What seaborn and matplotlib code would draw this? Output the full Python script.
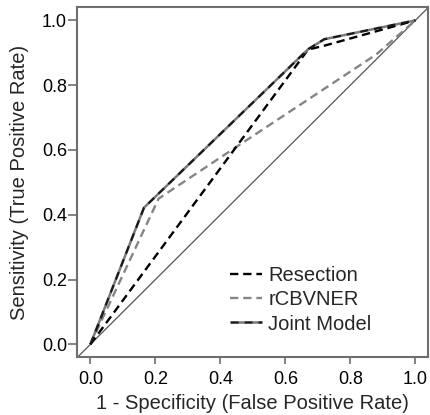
import numpy as np
import pandas as pd
import seaborn as sns
import matplotlib
matplotlib.use("Agg")
import matplotlib.pyplot as plt

# --- ROC curve points ---
resection_fpr = [0.0, 0.67, 0.72, 1.0]
resection_tpr = [0.0, 0.91, 0.922, 1.0]

rcbv_fpr = [0.0, 0.21, 0.45, 0.88, 1.0]
rcbv_tpr = [0.0, 0.45, 0.61, 0.895, 1.0]

joint_fpr = [0.0, 0.165, 0.225, 0.67, 0.72, 1.0]
joint_tpr = [0.0, 0.422, 0.48, 0.911, 0.942, 1.0]

tick_values = [0.0, 0.2, 0.4, 0.6, 0.8, 1.0]

sns.set_style("ticks")
plt.rcParams['font.family'] = ['Liberation Sans', 'DejaVu Sans']
plt.rcParams['lines.scale_dashes'] = False

frame_col = '#6e6e6e'

fig = plt.figure(figsize=(4.3, 4.15), dpi=100)
ax = fig.add_axes([0.18, 0.139, 0.816, 0.843])

# reference diagonal
ax.axline((0, 0), (1, 1), color='#555555', lw=0.9, zorder=1)

df_res = pd.DataFrame({'fpr': resection_fpr, 'tpr': resection_tpr})
df_rcbv = pd.DataFrame({'fpr': rcbv_fpr, 'tpr': rcbv_tpr})
df_joint = pd.DataFrame({'fpr': joint_fpr, 'tpr': joint_tpr})

sns.lineplot(data=df_res, x='fpr', y='tpr', ax=ax, color='black', lw=1.7,
             linestyle=(0, (6, 3.5)), label='Resection', zorder=3)
sns.lineplot(data=df_rcbv, x='fpr', y='tpr', ax=ax, color='#858585', lw=1.7,
             linestyle=(0, (6, 3.5)), label='rCBVNER', zorder=2)
sns.lineplot(data=df_joint, x='fpr', y='tpr', ax=ax, color='#1a1a1a', lw=1.8,
             linestyle=(0, (6, 4)), gapcolor='#7a7a7a', label='Joint Model', zorder=4)

ax.set_xlim(-0.04, 1.04)
ax.set_ylim(-0.04, 1.04)
ax.set_xticks(tick_values)
ax.set_yticks(tick_values)
ax.set_xticklabels([f"{v:.1f}" for v in tick_values])
ax.set_yticklabels([f"{v:.1f}" for v in tick_values])
ax.tick_params(axis='both', labelsize=13, colors=frame_col, labelcolor='black', width=1.2)
ax.tick_params(axis='x', length=5, pad=5)
ax.tick_params(axis='y', length=6.5, pad=1)

for sp in ax.spines.values():
    sp.set_visible(True)
    sp.set_color(frame_col)
    sp.set_linewidth(1.5)

ax.set_xlabel('1 - Specificity (False Positive Rate)', fontsize=14.5, labelpad=4)
ax.set_ylabel('Sensitivity (True Positive Rate)', fontsize=14.5, labelpad=9)

leg = ax.legend(loc='lower left', bbox_to_anchor=(0.435, 0.068), frameon=False,
                fontsize=14.5, handlelength=1.6, handletextpad=0.3,
                labelspacing=0.25, borderaxespad=0, borderpad=0)

fig.savefig('out.png', dpi=100)
